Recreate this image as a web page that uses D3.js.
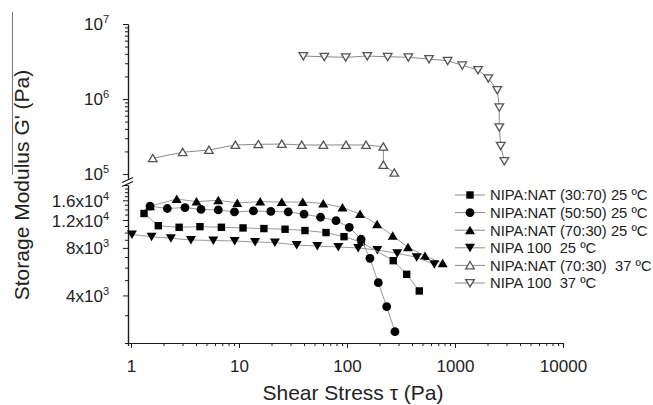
<!DOCTYPE html>
<html>
<head>
<meta charset="utf-8">
<script src="https://cdn.jsdelivr.net/npm/d3@7/dist/d3.min.js"></script>
<style>
  html, body { margin: 0; padding: 0; background: #fff; }
  svg { display: block; font-family: Arial, "Liberation Sans", sans-serif; }
  text { white-space: pre; }
</style>
</head>
<body>
<svg id="chart" width="653" height="405"></svg>
<script>
// ---- data: shear stress (Pa) and storage modulus G' (Pa) ----
// NIPA:NAT (30:70) 25 ºC
const s3070_25_x = [1.32, 1.79, 2.79, 4.35, 6.87, 10.9, 17.0, 26.7, 40.8, 63.9, 93.8, 135, 268, 357, 467];
const s3070_25_y = [13200, 11050, 10800, 10900, 10800, 10700, 10600, 10500, 10300, 10000, 9420, 8710, 6640, 5440, 4270];
// NIPA:NAT (50:50) 25 ºC
const s5050_25_x = [1.50, 2.17, 3.16, 4.45, 6.43, 9.08, 13.6, 19.7, 28.6, 40.0, 56.9, 79.1, 105, 135, 163, 195, 233, 278];
const s5050_25_y = [14700, 14200, 14400, 14000, 13900, 13500, 13700, 13600, 13500, 13100, 12500, 11900, 10800, 9070, 6870, 4820, 3400, 2360];
// NIPA:NAT (70:30) 25 ºC
const s7030_25_x = [1.50, 2.65, 4.04, 6.43, 9.64, 15.7, 24.9, 38.9, 60.3, 90.8, 132, 190, 265, 367, 527, 769];
const s7030_25_y = [14700, 16300, 15700, 16000, 15400, 15700, 15600, 15600, 15300, 14400, 13100, 11300, 9550, 8070, 7110, 6390];
// NIPA 100 25 ºC
const n100_25_x = [1.02, 1.55, 2.34, 3.59, 5.78, 9.12, 14.1, 21.5, 34.2, 53.1, 83.0, 127, 191, 292, 442, 643];
const n100_25_y = [9720, 9420, 9200, 8970, 8910, 8840, 8710, 8650, 8340, 8220, 8100, 7990, 7760, 7390, 6970, 6300];
// NIPA:NAT (70:30) 37 ºC
const s7030_37_x = [1.59, 3.01, 5.27, 9.25, 15.1, 24.9, 38.1, 60.4, 97.9, 150, 217, 217, 274];
const s7030_37_y = [162000, 195000, 209000, 244000, 249000, 251000, 244000, 244000, 244000, 244000, 231000, 132000, 104000];
// NIPA 100 37 ºC
const n100_37_x = [39.4, 61.6, 97.3, 154, 238, 370, 575, 855, 1168, 1633, 2033, 2464, 2571, 2571, 2649, 2860];
const n100_37_y = [3740000, 3660000, 3600000, 3740000, 3660000, 3600000, 3410000, 3240000, 2810000, 2440000, 1890000, 1320000, 775000, 420000, 238000, 149000];

// legend entries
const seriesNames = [
  "NIPA:NAT (30:70) 25 ºC",
  "NIPA:NAT (50:50) 25 ºC",
  "NIPA:NAT (70:30) 25 ºC",
  "NIPA 100  25 ºC",
  "NIPA:NAT (70:30)  37 ºC",
  "NIPA 100  37 ºC"
];

// tick values and labels
const xTickValues = [1, 10, 100, 1000, 10000];
const xTickLabels = ["1", "10", "100", "1000", "10000"];
const upperTickValues = [1e5, 1e6, 1e7];
const upperTickLabels = [["10", "5"], ["10", "6"], ["10", "7"]];
const lowerTickValues = [4000, 8000, 12000, 16000];
const lowerTickLabels = [["4x10", "3"], ["8x10", "3"], ["1.2x10", "4"], ["1.6x10", "4"]];

const xTitle = "Shear Stress \u03C4 (Pa)";
const yTitle = "Storage Modulus G' (Pa)";

// ---- layout ----
const svg = d3.select("#chart");
const axisColor = "#1a1a1a";
const left = 128, right = 563;

const x = d3.scaleLog().domain([0.938, 10000]).range([left, right]);
const yUp = d3.scaleLog().domain([8.8e4, 1e7]).range([178.2, 24]);
const yLo = d3.scaleLog().domain([2000, 20000]).range([343, 185]);

// ---- marker shapes ----
function markerPath(kind) {
  if (kind === "square") return "M-3.7,-3.7h7.4v7.4h-7.4Z";
  if (kind === "circle") return "M4.4,0A4.4,4.4 0 1,1 -4.4,0A4.4,4.4 0 1,1 4.4,0Z";
  if (kind === "up") return "M0,-4.5L5,4L-5,4Z";
  if (kind === "down") return "M0,4.5L5,-4L-5,-4Z";
}
function openPath(kind) {
  if (kind === "up") return "M0,-3.9L4.3,3.4L-4.3,3.4Z";
  return "M0,3.9L4.3,-3.4L-4.3,-3.4Z";
}

const series = [
  { xs: s7030_25_x, ys: s7030_25_y, y: yLo, shape: "up", open: false, name: seriesNames[2] },
  { xs: n100_25_x, ys: n100_25_y, y: yLo, shape: "down", open: false, name: seriesNames[3] },
  { xs: s3070_25_x, ys: s3070_25_y, y: yLo, shape: "square", open: false, name: seriesNames[0] },
  { xs: s5050_25_x, ys: s5050_25_y, y: yLo, shape: "circle", open: false, name: seriesNames[1] },
  { xs: s7030_37_x, ys: s7030_37_y, y: yUp, shape: "up", open: true, name: seriesNames[4] },
  { xs: n100_37_x, ys: n100_37_y, y: yUp, shape: "down", open: true, name: seriesNames[5] }
];

// ---- axes ----
function logMinor(lo, hi) {
  const out = [];
  for (let e = Math.floor(Math.log10(lo)); e <= Math.ceil(Math.log10(hi)); e++) {
    for (let m = 2; m <= 9; m++) {
      const v = m * Math.pow(10, e);
      if (v >= lo && v <= hi) out.push(v);
    }
  }
  return out;
}
function styleAxis(g) {
  g.selectAll("path.domain").attr("stroke", axisColor).attr("stroke-width", 1.2);
  g.selectAll(".tick line").attr("stroke", axisColor).attr("stroke-width", 1);
}
function supLabels(g, labels, values) {
  g.selectAll(".tick text").each(function (d) {
    const i = values.indexOf(d);
    const t = d3.select(this);
    t.text(null);
    t.append("tspan").text(labels[i][0]);
    t.append("tspan").attr("dy", -7).attr("font-size", 11).text(labels[i][1]);
  });
}

// bottom axis
const gx = svg.append("g").attr("transform", "translate(0,343)");
gx.append("g").call(d3.axisBottom(x).tickValues(logMinor(1, 10000)).tickSize(3).tickFormat(""))
  .call(styleAxis);
gx.append("g").call(d3.axisBottom(x).tickValues(xTickValues).tickSize(5).tickSizeOuter(0).tickPadding(12)
    .tickFormat((d, i) => xTickLabels[i]))
  .call(styleAxis)
  .call(g => g.selectAll(".tick text").attr("font-size", 17).attr("fill", "#222"));

// upper y axis (log decades)
const gyU = svg.append("g").attr("transform", `translate(${left},0)`);
gyU.append("g").call(d3.axisLeft(yUp).tickValues(logMinor(1e5, 1e7)).tickSize(3).tickFormat("").tickSizeOuter(0))
  .call(styleAxis);
gyU.append("g").call(d3.axisLeft(yUp).tickValues(upperTickValues).tickSize(5).tickSizeOuter(0).tickPadding(14))
  .call(styleAxis)
  .call(g => g.selectAll(".tick text").attr("font-size", 17).attr("fill", "#222").attr("dy", "0.35em"))
  .call(g => supLabels(g, upperTickLabels, upperTickValues));

// lower y axis
const lowerMinor = d3.range(2000, 20001, 1000).filter(v => lowerTickValues.indexOf(v) < 0);
const gyL = svg.append("g").attr("transform", `translate(${left},0)`);
gyL.append("g").call(d3.axisLeft(yLo).tickValues(lowerMinor).tickSize(3).tickFormat("").tickSizeOuter(0))
  .call(styleAxis);
gyL.append("g").call(d3.axisLeft(yLo).tickValues(lowerTickValues).tickSize(5).tickSizeOuter(0).tickPadding(14))
  .call(styleAxis)
  .call(g => g.selectAll(".tick text").attr("font-size", 17).attr("fill", "#222").attr("dy", "0.35em"))
  .call(g => supLabels(g, lowerTickLabels, lowerTickValues));

// axis break marks
const brk = svg.append("g").attr("stroke", axisColor).attr("stroke-width", 1.2);
brk.append("line").attr("x1", left - 6).attr("y1", 182.5).attr("x2", left + 5).attr("y2", 177.5);
brk.append("line").attr("x1", left - 6).attr("y1", 186.5).attr("x2", left + 5).attr("y2", 181.5);

// ---- series ----
const plot = svg.append("g");
series.forEach(s => {
  const pts = s.xs.map((v, i) => [v, s.ys[i]]);
  const line = d3.line().x(d => x(d[0])).y(d => s.y(d[1]));
  plot.append("path").datum(pts)
    .attr("d", line)
    .attr("fill", "none")
    .attr("stroke", s.open ? "#8a8a8a" : "#9a9a9a")
    .attr("stroke-width", 1);
  plot.append("g").selectAll("path").data(pts).join("path")
    .attr("transform", d => `translate(${x(d[0])},${s.y(d[1])})`)
    .attr("d", s.open ? openPath(s.shape) : markerPath(s.shape))
    .attr("fill", s.open ? "#fff" : "#000")
    .attr("stroke", s.open ? "#555" : "none")
    .attr("stroke-width", s.open ? 1.3 : 0);
});

// ---- legend ----
const legendOrder = [
  { shape: "square", open: false },
  { shape: "circle", open: false },
  { shape: "up", open: false },
  { shape: "down", open: false },
  { shape: "up", open: true },
  { shape: "down", open: true }
];
const legend = svg.append("g").attr("transform", "translate(455,195)");
legendOrder.forEach((m, i) => {
  const row = legend.append("g").attr("transform", `translate(0,${i * 17.6})`);
  row.append("line").attr("x1", 0).attr("x2", 30).attr("y1", 0).attr("y2", 0)
    .attr("stroke", "#8a8a8a").attr("stroke-width", 1);
  row.append("path").attr("transform", "translate(15,0)")
    .attr("d", m.open ? openPath(m.shape) : markerPath(m.shape))
    .attr("fill", m.open ? "#fff" : "#000")
    .attr("stroke", m.open ? "#555" : "none")
    .attr("stroke-width", m.open ? 1.3 : 0);
  row.append("text").attr("x", 35).attr("y", 0).attr("dy", "0.36em")
    .attr("font-size", 14.8).attr("fill", "#222").text(seriesNames[i]);
});

// ---- axis titles ----
svg.append("text").attr("x", 353).attr("y", 400).attr("text-anchor", "middle")
  .attr("font-size", 21).attr("fill", "#222").text(xTitle);
svg.append("text").attr("transform", "translate(29,185) rotate(-90)").attr("text-anchor", "middle")
  .attr("font-size", 21).attr("fill", "#222").text(yTitle);

// thin frame edge at the far left
svg.append("line").attr("x1", 12.5).attr("x2", 12.5).attr("y1", 12).attr("y2", 175)
  .attr("stroke", "#777").attr("stroke-width", 1);
</script>
</body>
</html>
